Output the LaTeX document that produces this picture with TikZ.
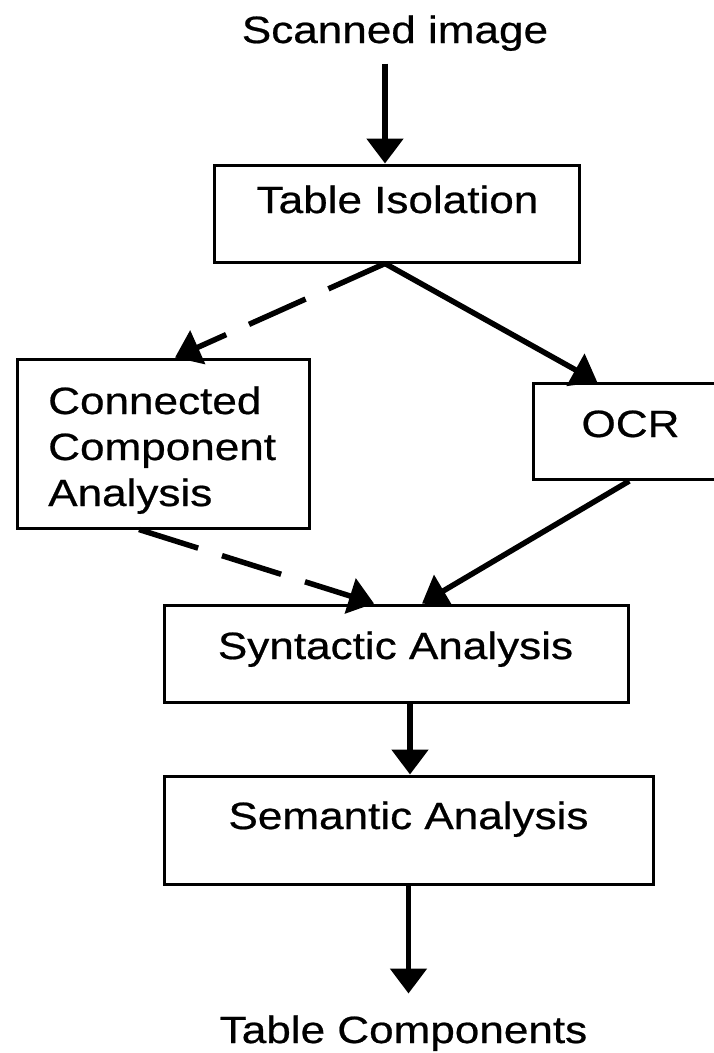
\documentclass[tikz,border=0pt]{standalone}
\usepackage{fontspec}
\setmainfont{Liberation Sans}[FakeStretch=1.16,FakeBold=0.6]
\usetikzlibrary{arrows.meta,calc}
\begin{document}
\begin{tikzpicture}[x=1pt,y=-1pt,
  box/.style={draw, line width=3pt, rectangle, inner sep=0pt},
  lbl/.style={inner sep=0pt, font=\fontsize{38}{46}\selectfont},
  arr/.style={line width=5.5pt, -{Triangle[length=25pt,width=36pt]}},
  dashline/.style={arr, dash pattern=on 62pt off 25pt}]
\useasboundingbox (0,0) rectangle (714,1053);

% boxes
\node[box, minimum width=365pt, minimum height=97pt] (ti) at (396.5,213.5) {};
\node[box, minimum width=292pt, minimum height=169pt] (cc) at (163,443.5) {};
\node[box, minimum width=196pt, minimum height=96pt] (ocr) at (631.75,431.5) {};
\node[box, minimum width=464pt, minimum height=97pt] (syn) at (396,653.5) {};
\node[box, minimum width=489pt, minimum height=108pt] (sem) at (408.5,830) {};

% texts
\node[lbl, anchor=base] (sc) at (395,43) {Scanned image};
\node[lbl, anchor=base] (tilbl) at (397.5,213) {Table Isolation};
\node[lbl, anchor=base west, align=left] (cclbl) at (48,506) {Connected\\Component\\Analysis};
\node[lbl, anchor=base] (ocrlbl) at (630.5,437) {OCR};
\node[lbl, anchor=base] (synlbl) at (395.5,659) {Syntactic Analysis};
\node[lbl, anchor=base] (semlbl) at (408.5,829) {Semantic Analysis};
\node[lbl, anchor=base] (tc) at (403.5,1043) {Table Components};

% connectors
\coordinate (split) at ($(ti.south)+(-11.5,0)$);
\draw[arr] ($(ti.north)+(-11.5,-100)$) -- ($(ti.north)+(-11.5,0)$);
\draw[dashline] (split) -- ($(cc.north)+(12,0)$);
\draw[arr] (split) -- ($(ocr.north west)+(65,0)$);
\draw[dashline] ($(cc.south)+(-24,0)$) -- ($(syn.north)+(-22,0)$);
\draw[arr] ($(ocr.south west)+(97,0)$) -- ($(syn.north)+(26,0)$);
\draw[arr] ($(syn.south)+(14,0)$) -- ($(sem.north)+(1.5,0)$);
\draw[arr] (sem.south) -- ($(sem.south)+(0,108)$);
\end{tikzpicture}
\end{document}
